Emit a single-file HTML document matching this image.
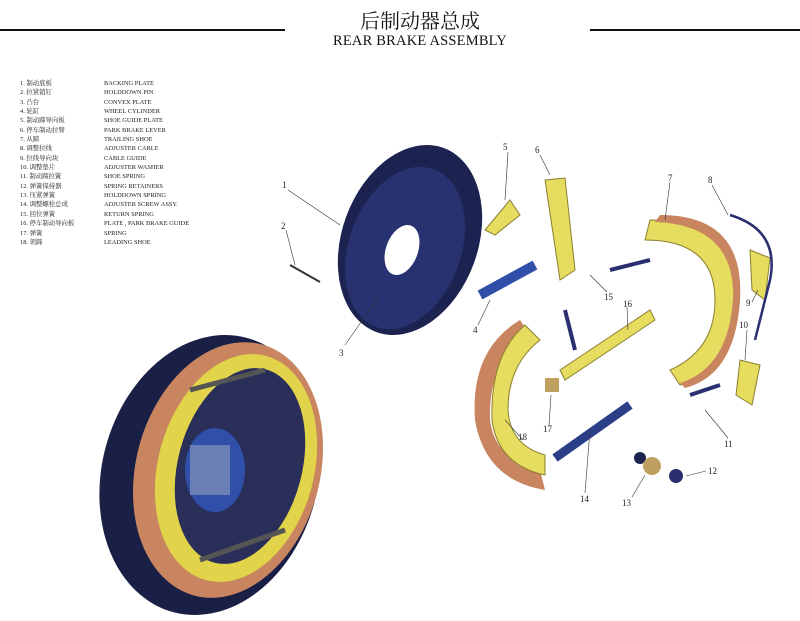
<!DOCTYPE html>
<html><head><meta charset="utf-8"><style>
body{margin:0;width:800px;height:621px;background:#fff;overflow:hidden;position:relative;font-family:"Liberation Serif","Noto Serif CJK SC",serif}
.t1{position:absolute;left:360px;top:5px;font-size:20px;font-family:"Noto Serif CJK SC",serif;color:#111}
.t2{position:absolute;left:333px;top:33px;font-size:14.5px;color:#111;letter-spacing:0.2px}
.leg{position:absolute;font-size:6.4px;line-height:9.35px;color:#222;top:79px}
</style></head><body>
<div class="t1">后制动器总成</div>
<div class="t2">REAR BRAKE ASSEMBLY</div>
<div class="leg" style="left:20px">1. 制动底板<br>2. 拉紧销钉<br>3. 凸台<br>4. 轮缸<br>5. 制动蹄导向板<br>6. 停车制动拉臂<br>7. 从蹄<br>8. 调整拉线<br>9. 拉线导向块<br>10. 调整垫片<br>11. 制动蹄拉簧<br>12. 弹簧保持器<br>13. 压紧弹簧<br>14. 调整螺栓总成<br>15. 回位弹簧<br>16. 停车制动导向板<br>17. 弹簧<br>18. 领蹄</div>
<div class="leg" style="left:104px">BACKING PLATE<br>HOLDDOWN PIN<br>CONVEX PLATE<br>WHEEL CYLINDER<br>SHOE GUIDE PLATE<br>PARK BRAKE LEVER<br>TRAILING SHOE<br>ADJUSTER CABLE<br>CABLE GUIDE<br>ADJUSTER WASHER<br>SHOE SPRING<br>SPRING RETAINERS<br>HOLDDOWN SPRING<br>ADJUSTER SCREW ASSY.<br>RETURN SPRING<br>PLATE , PARK BRAKE GUIDE<br>SPRING<br>LEADING SHOE</div>
<svg width="800" height="621" style="position:absolute;left:0;top:0" font-family="Liberation Serif" font-size="9" fill="#222">
<line x1="0" y1="30" x2="285" y2="30" stroke="#111" stroke-width="2"/>
<line x1="590" y1="30" x2="800" y2="30" stroke="#111" stroke-width="2"/>
<ellipse cx="410" cy="240" rx="68" ry="98" transform="rotate(20 410 240)" fill="#1c2350"/>
<ellipse cx="405" cy="248" rx="56" ry="84" transform="rotate(20 405 248)" fill="#283270"/>
<ellipse cx="402" cy="250" rx="16" ry="26" transform="rotate(20 402 250)" fill="#fff"/>
<ellipse cx="210" cy="475" rx="108" ry="142" transform="rotate(15 210 475)" fill="#1a1f45"/>
<ellipse cx="228" cy="470" rx="92" ry="130" transform="rotate(15 228 470)" fill="#c98560"/>
<ellipse cx="236" cy="468" rx="78" ry="116" transform="rotate(15 236 468)" fill="#e2d44a"/>
<ellipse cx="240" cy="466" rx="62" ry="100" transform="rotate(15 240 466)" fill="#2a2f5a"/>
<ellipse cx="215" cy="470" rx="30" ry="42" fill="#2f4fa8"/>
<rect x="190" y="445" width="40" height="50" fill="#6a7fb5"/>
<line x1="190" y1="390" x2="265" y2="370" stroke="#555" stroke-width="5"/>
<line x1="200" y1="560" x2="285" y2="530" stroke="#555" stroke-width="5"/>
<path d="M650 220 Q740 220 735 300 Q730 370 680 385 L670 370 Q715 350 715 300 Q715 240 645 240Z" fill="#e6dc60" stroke="#8a7f30"/>
<path d="M660 215 Q745 215 740 300 Q735 375 685 388 L680 383 Q728 368 733 300 Q736 225 655 222Z" fill="#c98560"/>
<path d="M520 320 Q470 350 475 420 Q485 480 545 490 L540 470 Q495 460 490 420 Q488 360 530 335Z" fill="#c98560"/>
<path d="M525 325 Q490 355 492 420 Q498 465 545 475 L545 455 Q510 445 508 410 Q508 365 540 340Z" fill="#e6dc60" stroke="#8a7f30"/>
<path d="M485 230 L510 200 L520 215 L495 235Z" fill="#e6dc60" stroke="#8a7f30"/>
<path d="M545 180 L565 178 L575 270 L560 280Z" fill="#e6dc60" stroke="#8a7f30"/>
<path d="M560 370 L650 310 L655 320 L565 380Z" fill="#e6dc60" stroke="#8a7f30"/>
<path d="M750 250 L770 258 L765 300 L752 290Z" fill="#e6dc60" stroke="#8a7f30"/>
<path d="M740 360 L760 365 L752 405 L736 395Z" fill="#e6dc60" stroke="#8a7f30"/>
<line x1="480" y1="295" x2="535" y2="265" stroke="#2f4fa8" stroke-width="10"/>
<line x1="555" y1="458" x2="630" y2="405" stroke="#2a3f88" stroke-width="9"/>
<rect x="545" y="378" width="14" height="14" fill="#c0a060"/>
<path d="M730 215 Q780 230 770 280 L755 340" stroke="#2a2f70" stroke-width="2.5" fill="none"/>
<path d="M565 310 L575 350 M610 270 L650 260 M690 395 L720 385" stroke="#2a2f70" stroke-width="4"/>
<circle cx="640" cy="458" r="6" fill="#1c2350"/><circle cx="652" cy="466" r="9" fill="#c0a060"/><circle cx="676" cy="476" r="7" fill="#2a2f70"/>
<line x1="290" y1="265" x2="320" y2="282" stroke="#333" stroke-width="2"/>
<g stroke="#333" stroke-width="0.6">
<line x1="288" y1="190" x2="340" y2="225"/><line x1="286" y1="230" x2="295" y2="265"/><line x1="345" y1="345" x2="380" y2="295"/>
<line x1="478" y1="325" x2="490" y2="300"/><line x1="508" y1="152" x2="505" y2="200"/><line x1="540" y1="155" x2="550" y2="175"/>
<line x1="670" y1="182" x2="665" y2="220"/><line x1="712" y1="185" x2="728" y2="215"/><line x1="752" y1="302" x2="758" y2="290"/>
<line x1="747" y1="330" x2="745" y2="360"/><line x1="728" y1="438" x2="705" y2="410"/><line x1="706" y1="471" x2="686" y2="476"/>
<line x1="632" y1="497" x2="645" y2="475"/><line x1="585" y1="493" x2="590" y2="430"/><line x1="607" y1="292" x2="590" y2="275"/>
<line x1="627" y1="307" x2="628" y2="330"/><line x1="549" y1="425" x2="551" y2="395"/><line x1="523" y1="440" x2="505" y2="420"/>
</g>
<text x="282" y="188">1</text><text x="281" y="229">2</text><text x="339" y="356">3</text><text x="473" y="333">4</text>
<text x="503" y="150">5</text><text x="535" y="153">6</text><text x="668" y="181">7</text><text x="708" y="183">8</text>
<text x="746" y="306">9</text><text x="739" y="328">10</text><text x="724" y="447">11</text><text x="708" y="474">12</text>
<text x="622" y="506">13</text><text x="580" y="502">14</text><text x="604" y="300">15</text><text x="623" y="307">16</text>
<text x="543" y="432">17</text><text x="518" y="440">18</text>
</svg>
</body></html>
